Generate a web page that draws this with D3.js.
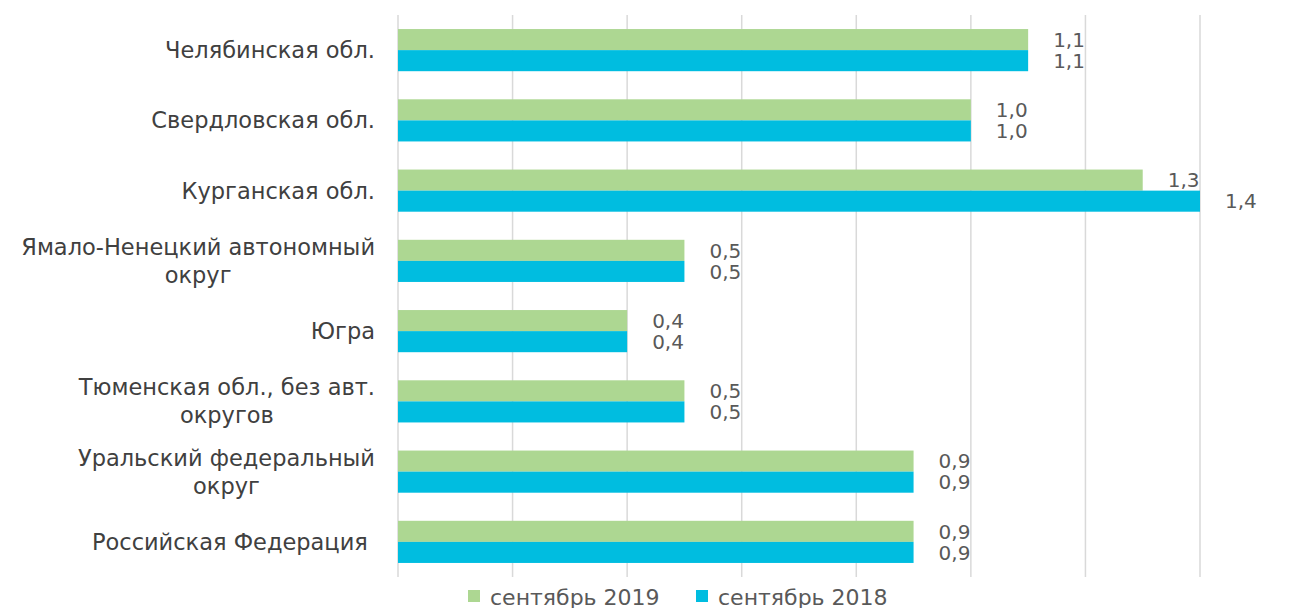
<!DOCTYPE html>
<html><head><meta charset="utf-8">
<script src="https://cdn.jsdelivr.net/npm/d3@7"></script>
<style>
html,body{margin:0;padding:0;background:#fff;}
text{font-family:"DejaVu Sans",sans-serif;white-space:pre;}
</style></head>
<body>
<svg id="chart" width="1303" height="608"></svg>
<script>
const categories = [
  ["Челябинская обл."],
  ["Свердловская обл."],
  ["Курганская обл."],
  ["Ямало-Ненецкий автономный","округ"],
  ["Югра"],
  ["Тюменская обл., без авт.","округов"],
  ["Уральский федеральный","округ"],
  ["Российская Федерация "]
];
const series2019 = [1.1, 1.0, 1.3, 0.5, 0.4, 0.5, 0.9, 0.9];
const series2018 = [1.1, 1.0, 1.4, 0.5, 0.4, 0.5, 0.9, 0.9];
const seriesNames = ["сентябрь 2019", "сентябрь 2018"];
const colors = ["#ADD792", "#00BDE0"];
const gridTicks = [0, 0.2, 0.4, 0.6, 0.8, 1.0, 1.2, 1.4];

const svg = d3.select("#chart");
const fmt = v => d3.format(".1f")(v).replace(".", ",");

const x = d3.scaleLinear().domain([0, 1.4]).range([398, 1200]);
const y = d3.scaleBand().domain(d3.range(categories.length)).range([15, 577])
  .paddingInner(0.4).paddingOuter(0.2);
const sub = d3.scaleBand().domain([0, 1]).range([0, y.bandwidth()]);

// gridlines
svg.append("g").selectAll("line").data(gridTicks).join("line")
  .attr("x1", d => x(d)).attr("x2", d => x(d))
  .attr("y1", 15).attr("y2", 577)
  .attr("stroke", "#d9d9d9").attr("stroke-width", 1.5);

const data = [series2019, series2018];
data.forEach((s, si) => {
  const g = svg.append("g");
  g.selectAll("rect").data(s).join("rect")
    .attr("x", x(0))
    .attr("y", (d, i) => y(i) + sub(si))
    .attr("width", d => x(d) - x(0))
    .attr("height", sub.bandwidth())
    .attr("fill", colors[si]);
  g.selectAll("text").data(s).join("text")
    .attr("x", d => x(d) + 25)
    .attr("y", (d, i) => y(i) + sub(si) + sub.bandwidth() / 2)
    .attr("dy", "0.36em")
    .attr("font-size", 20)
    .attr("fill", "#595959")
    .text(d => fmt(d));
});

// category labels
const lineH = 28;
categories.forEach((lines, i) => {
  const cy = y(i) + y.bandwidth() / 2;
  const t = svg.append("text").attr("font-size", 22.5).attr("fill", "#404040");
  const n = lines.length;
  const spans = lines.map((ln, k) => t.append("tspan")
    .attr("y", cy + (k - (n - 1) / 2) * lineH)
    .attr("dy", "0.36em")
    .text(ln));
  const widths = spans.map(s => s.node().getComputedTextLength());
  const maxW = d3.max(widths);
  const right = 375;
  spans.forEach(s => s.attr("x", right - maxW / 2).attr("text-anchor", "middle"));
});

// legend
const legendX = [468, 696];
seriesNames.forEach((name, i) => {
  svg.append("rect").attr("x", legendX[i]).attr("y", 590).attr("width", 12).attr("height", 12)
    .attr("fill", colors[i]);
  svg.append("text").attr("x", legendX[i] + 22).attr("y", 597).attr("dy", "0.36em")
    .attr("font-size", 22).attr("fill", "#595959").text(name);
});
</script>
</body></html>
